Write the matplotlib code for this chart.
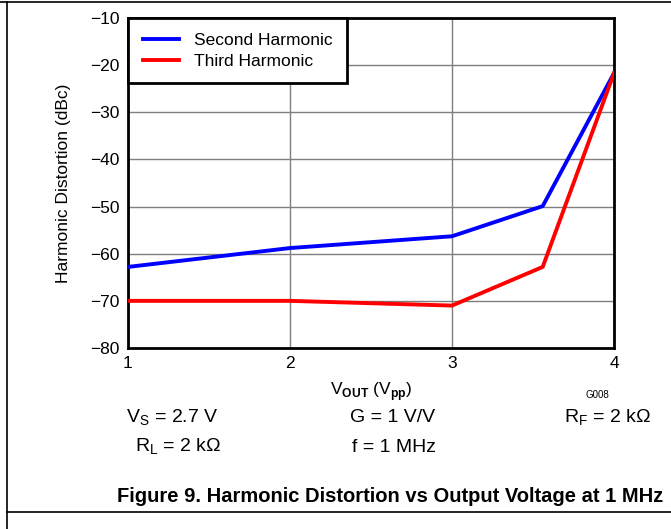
import matplotlib.pyplot as plt
from matplotlib.lines import Line2D

plt.rcParams['font.family'] = ['Liberation Sans', 'DejaVu Sans']
plt.rcParams['mathtext.fontset'] = 'custom'
plt.rcParams['mathtext.rm'] = 'Liberation Sans'
plt.rcParams['mathtext.bf'] = 'Liberation Sans:bold'

# data
vout = [1, 2, 3, 3.56, 4]
second = [-62.8, -58.8, -56.3, -49.9, -21.7]
third = [-70.0, -70.0, -71.0, -62.8, -21.7]

xticks = [1, 2, 3, 4]
yticks = [-80, -70, -60, -50, -40, -30, -20, -10]

fig = plt.figure(figsize=(6.71, 5.29), dpi=100)
ax = fig.add_axes([128 / 671, 1 - 348 / 529, (614 - 128) / 671, (348 - 18) / 529])

ax.plot(vout, second, color='#0000ff', linewidth=2.8, label='Second Harmonic', zorder=3)
ax.plot(vout, third, color='#ff0000', linewidth=2.8, label='Third Harmonic', zorder=3)

ax.set_xlim(1, 4)
ax.set_ylim(-80, -10)
ax.set_xticks(xticks)
ax.set_yticks(yticks)
ax.tick_params(length=0, labelsize=12.5, pad=6)
ax.grid(color='#7f7f7f', linewidth=1.0)
for s in ax.spines.values():
    s.set_linewidth(2)

ax.set_xlabel(r'V$_{\mathbf{OUT}}$ (V$_{\mathbf{pp}}$)', fontsize=12.5, labelpad=6)
ax.set_ylabel('Harmonic Distortion (dBc)', fontsize=12.5, labelpad=14)

leg = ax.legend(loc='upper left', bbox_to_anchor=(0, 1), borderaxespad=0,
                fancybox=False, edgecolor='black', framealpha=1, fontsize=12.5,
                handlelength=2.1, handletextpad=0.85, labelspacing=0.32,
                borderpad=0.85)
leg.get_frame().set_linewidth(2)

fig.text(597 / 671, 1 - 395 / 529, 'G008', fontsize=7, ha='center', va='center')

fs = 14
fig.text(172 / 671, 1 - 418 / 529, r'V$_\mathrm{S}$ = 2.7 V', fontsize=fs, ha='center', va='center')
fig.text(393 / 671, 1 - 418 / 529, 'G = 1 V/V', fontsize=fs, ha='center', va='center')
fig.text(608 / 671, 1 - 418 / 529, r'R$_\mathrm{F}$ = 2 k$\Omega$', fontsize=fs, ha='center', va='center')
fig.text(178 / 671, 1 - 447 / 529, r'R$_\mathrm{L}$ = 2 k$\Omega$', fontsize=fs, ha='center', va='center')
fig.text(394 / 671, 1 - 447 / 529, 'f = 1 MHz', fontsize=fs, ha='center', va='center')

fig.text(390 / 671, 1 - 496 / 529, 'Figure 9. Harmonic Distortion vs Output Voltage at 1 MHz',
         fontsize=14.5, fontweight='bold', ha='center', va='center')

# page border lines
fig.add_artist(Line2D([0, 1], [1 - 2 / 529, 1 - 2 / 529], color='black', linewidth=1.2,
                      transform=fig.transFigure))
fig.add_artist(Line2D([7 / 671, 7 / 671], [0, 1 - 2 / 529], color='black', linewidth=1.2,
                      transform=fig.transFigure))
fig.add_artist(Line2D([7 / 671, 1], [1 - 512 / 529, 1 - 512 / 529], color='black', linewidth=1.2,
                      transform=fig.transFigure))

fig.savefig('out.png', dpi=100)
